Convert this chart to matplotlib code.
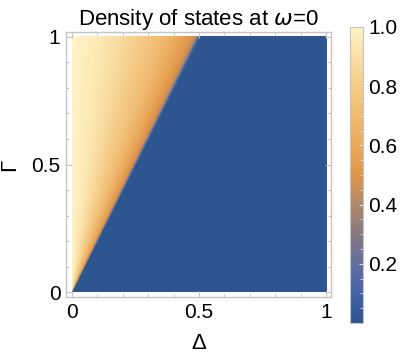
import numpy as np
import matplotlib
matplotlib.use('Agg')
import matplotlib.pyplot as plt
from matplotlib.colors import LinearSegmentedColormap
from matplotlib.ticker import MultipleLocator

plt.rcParams['font.family'] = ['Liberation Sans', 'DejaVu Sans']

ratio = [0.0, 0.10, 0.20, 0.30, 0.35, 0.40, 0.44, 0.47, 0.49, 0.50, 0.51, 1.0, 100.0]
dos = [1.0, 0.95, 0.87, 0.77, 0.71, 0.63, 0.56, 0.50, 0.40, 0.08, 0.01, 0.01, 0.01]

axis_ticks = [0, 0.5, 1]
axis_labels = ['0', '0.5', '1']
cbar_ticks = [0.2, 0.4, 0.6, 0.8, 1.0]

# Mathematica-like density gradient
grad_pos = [0.0, 0.1, 0.2, 0.3, 0.4, 0.5, 0.6, 0.8, 1.0]
grad_col = ['#2b548f', '#4563a8', '#64709e', '#85797f', '#b0896a',
            '#df9549', '#eaa95c', '#f5cb85', '#fff3c6']
cmap = LinearSegmentedColormap.from_list('m10', list(zip(grad_pos, grad_col)))

n = 200
d = (np.arange(n) + 0.5) / n
g = (np.arange(n) + 0.5) / n
D, G = np.meshgrid(d, g)
Z = np.interp(D / G, ratio, dos)

fig = plt.figure(figsize=(4.07, 3.57), dpi=100)
ax = fig.add_axes([66 / 407, 1 - 297 / 357, 265 / 407, 265 / 357])
im = ax.imshow(Z, origin='lower', extent=[0, 1, 0, 1], cmap=cmap,
               vmin=0, vmax=1, interpolation='bilinear', aspect='auto')
ax.set_xlim(-0.0236, 1.0197)
ax.set_ylim(-0.0196, 1.0196)

frame_col = '#c4c4c4'
for s in ax.spines.values():
    s.set_color(frame_col)
    s.set_linewidth(1.0)
ax.set_xticks(axis_ticks)
ax.set_xticklabels(axis_labels)
ax.set_yticks(axis_ticks)
ax.set_yticklabels(axis_labels)
ax.xaxis.set_minor_locator(MultipleLocator(0.1))
ax.yaxis.set_minor_locator(MultipleLocator(0.1))
ax.tick_params(which='both', direction='in', color=frame_col, top=True, right=True,
               labelsize=15, width=0.8)
ax.tick_params(which='major', length=4, pad=4)
ax.tick_params(which='minor', length=2)
ax.set_xlabel('Δ', fontsize=16, labelpad=8)
ax.set_ylabel('Γ', fontsize=16, labelpad=8)
ax.set_title('Density of states at $\\omega$=0', fontsize=16, pad=4)

cax = fig.add_axes([350 / 407, 1 - 323 / 357, 13 / 407, 296 / 357])
cb = fig.colorbar(im, cax=cax, ticks=cbar_ticks)
cb.ax.set_yticklabels(['0.2', '0.4', '0.6', '0.8', '1.0'])
cb.outline.set_edgecolor(frame_col)
cb.outline.set_linewidth(0.8)
cb.ax.yaxis.set_minor_locator(MultipleLocator(0.05))
cb.ax.tick_params(which='both', direction='in', color='#dddddd', labelsize=15, pad=4)
cb.ax.tick_params(which='major', length=3)
cb.ax.tick_params(which='minor', length=2)

fig.savefig('out.png', dpi=100)
